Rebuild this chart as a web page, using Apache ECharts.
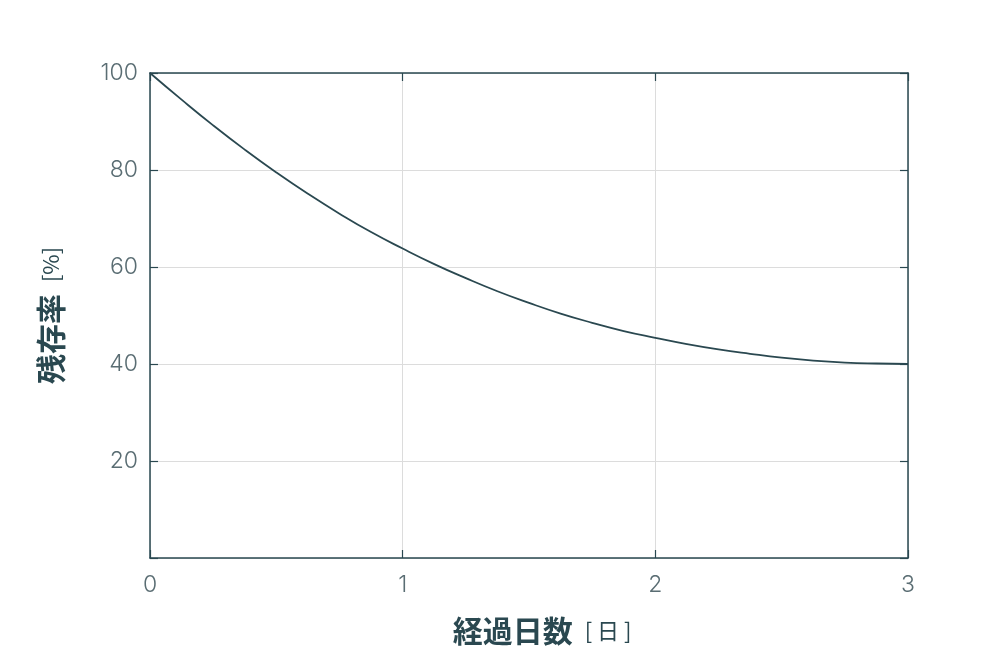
<!DOCTYPE html>
<html>
<head>
<meta charset="utf-8">
<script src="https://cdn.jsdelivr.net/npm/echarts@6/dist/echarts.min.js"></script>
<style>html,body{margin:0;padding:0;background:#fff}#c{width:1000px;height:650px}</style>
</head>
<body>
<div id="c"></div>
<script>
const days = [0, 0.125, 0.25, 0.375, 0.5, 0.625, 0.75, 0.875, 1, 1.125, 1.25, 1.375, 1.5, 1.625, 1.75, 1.875, 2, 2.125, 2.25, 2.375, 2.5, 2.625, 2.75, 2.875, 3];
const residual = [100, 94.5, 89.2, 84.2, 79.5, 75.1, 71.0, 67.2, 63.8, 60.6, 57.7, 55.0, 52.6, 50.4, 48.5, 46.8, 45.4, 44.1, 43.0, 42.1, 41.3, 40.7, 40.3, 40.1, 40.0];
const xTicks = [0, 1, 2, 3];
const yTicks = [20, 40, 60, 80, 100];

const dark = '#2a4850';
const tickColor = '#5a6d73';
const chart = echarts.init(document.getElementById('c'));
const axisLine = {show: true, onZero: false, lineStyle: {color: dark, width: 1.5}};
const axisTick = {show: true, inside: true, length: 8, lineStyle: {color: dark, width: 1.2}};
const split = {show: true, lineStyle: {color: '#dcdcdc', width: 1}};
const labelFont = {fontFamily: 'Inter', fontWeight: 300, fontSize: 23, color: tickColor};
const nameRich = {
  b: {fontFamily: 'Noto Sans CJK JP', fontWeight: 'bold', fontSize: 30, color: dark},
  s: {fontFamily: 'Noto Sans CJK JP', fontSize: 22, color: dark, padding: [0, 0, 0, 12]}
};

chart.setOption({
  animation: false,
  grid: {left: 150, right: 92, top: 73, bottom: 92, containLabel: false, outerBoundsMode: 'none'},
  xAxis: [{
    type: 'value', min: 0, max: 3, interval: 1,
    axisLine, axisTick, splitLine: split,
    axisLabel: Object.assign({margin: 16, formatter: v => xTicks.includes(v) ? String(v) : ''}, labelFont),
    name: '{b|経過日数}{s|[ 日 ]}', nameLocation: 'middle', nameGap: 58,
    nameTextStyle: {rich: nameRich, padding: [0, 0, 0, 26]}
  }, {
    type: 'value', position: 'top', min: 0, max: 3, interval: 1,
    axisLine, axisTick, splitLine: {show: false}, axisLabel: {show: false}
  }],
  yAxis: [{
    type: 'value', min: 0, max: 100, interval: 20,
    axisLine, axisTick, splitLine: split,
    axisLabel: Object.assign({margin: 12, formatter: v => yTicks.includes(v) ? String(v) : ''}, labelFont),
    name: '{b|残存率}{s|[%]}', nameLocation: 'middle', nameGap: 84, nameRotate: 90,
    nameTextStyle: {rich: nameRich}
  }, {
    type: 'value', position: 'right', min: 0, max: 100, interval: 20,
    axisLine, axisTick, splitLine: {show: false}, axisLabel: {show: false}
  }],
  series: [{
    type: 'line', smooth: true, showSymbol: false,
    data: days.map((d, i) => [d, residual[i]]),
    lineStyle: {color: dark, width: 1.8}
  }]
});
</script>
</body>
</html>
